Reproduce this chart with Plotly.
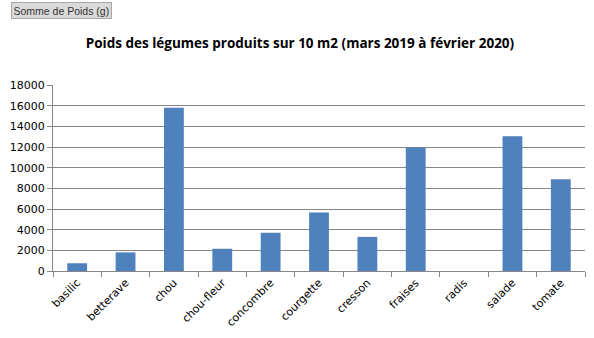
import plotly.graph_objects as go

categories = ["basilic", "betterave", "chou", "chou-fleur", "concombre", "courgette",
              "cresson", "fraises", "radis", "salade", "tomate"]
poids = [750, 1800, 15800, 2150, 3700, 5650, 3300, 11950, 0, 13050, 8870]
y_ticks = list(range(0, 18001, 2000))
y_tick_labels = [str(v) for v in y_ticks]

fig = go.Figure(go.Bar(x=categories, y=poids, marker_color="#4F81BD",
                       marker_line_width=0))

fig.update_layout(
    width=594, height=338,
    margin=dict(l=53, r=9, t=85, b=67),
    paper_bgcolor="white", plot_bgcolor="white",
    bargap=0.59,
    showlegend=False,
    title=dict(text="<b>Poids des légumes produits sur 10 m2 (mars 2019 à février 2020)</b>",
               x=0.505, xanchor="center", y=0.873, yanchor="middle",
               font=dict(family="Open Sans", size=13.5, color="black")),
    font=dict(family="DejaVu Sans", size=11, color="black"),
)
fig.update_xaxes(
    type="category", tickson="boundaries", ticks="outside", ticklen=5,
    tickcolor="#868686", showline=True, linecolor="#868686", linewidth=1,
    tickangle=-45, showgrid=False, tickfont=dict(family="DejaVu Sans", size=11),
)
fig.update_yaxes(
    range=[0, 18000], tickvals=y_ticks, ticktext=y_tick_labels,
    ticks="outside", ticklen=5,
    tickcolor="#868686", showline=True, linecolor="#868686", linewidth=1,
    showgrid=True, gridcolor="#868686", gridwidth=1, zeroline=False,
    tickfont=dict(family="DejaVu Sans", size=11),
)
fig.add_annotation(
    text="Somme de Poids (g)", xref="paper", yref="paper", x=-0.079, y=1.0,
    xanchor="left", yanchor="bottom", yshift=66, showarrow=False,
    font=dict(family="Liberation Sans", size=10.5, color="#333333"),
    bgcolor="#DADADA", bordercolor="#A8A8A8", borderwidth=1, borderpad=1.5,
)
fig.write_html("out.html")
